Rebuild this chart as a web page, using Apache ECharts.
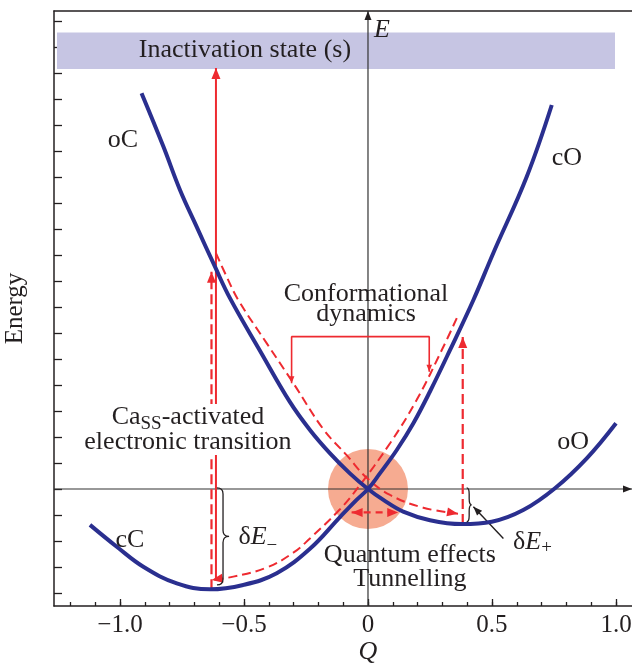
<!DOCTYPE html>
<html><head><meta charset="utf-8">
<script src="https://cdn.jsdelivr.net/npm/echarts@6/dist/echarts.min.js"></script>
<style>html,body{margin:0;padding:0;background:#fff}#c{width:632px;height:668px}</style>
</head><body><div id="c"></div>
<script>
// ---------- data ----------
const xLabelValues = [-1, -0.5, 0, 0.5, 1];
const xTickLabels = ['\u22121.0', '\u22120.5', '0', '0.5', '1.0'];
const xMinorTickValues = [-1.2,-1.1,-1.0,-0.9,-0.8,-0.7,-0.6,-0.5,-0.4,-0.3,-0.2,-0.1,0,0.1,0.2,0.3,0.4,0.5,0.6,0.7,0.8,0.9,1.0];
const yTickValues = [-4,-3,-2,-1,0,1,2,3,4,5,6,7,8,9,10,11,12,13,14,15,16,17,18];
const xRange = [-1.266, 1.0645];
const yRange = [-4.5, 18.385];

// oC -> oO potential curve
const curveOcOo = [[-0.913,15.22],[-0.825,13.17],[-0.758,11.5],[-0.691,10.09],[-0.617,8.55],[-0.556,7.33],[-0.435,5.31],[-0.315,3.35],[-0.234,2.27],[-0.153,1.37],[-0.073,0.6],[0,0],[0.062,-0.42],[0.142,-0.87],[0.25,-1.2],[0.378,-1.35],[0.499,-1.26],[0.626,-0.81],[0.754,0.03],[0.882,1.18],[1.0,2.53]];
// cC -> cO potential curve
const curveCcCo = [[-1.121,-1.38],[-1.013,-2.22],[-0.906,-2.99],[-0.771,-3.63],[-0.637,-3.86],[-0.503,-3.69],[-0.368,-3.24],[-0.234,-2.3],[-0.113,-1.08],[-0.046,-0.42],[0,0],[0.048,0.6],[0.116,1.5],[0.183,2.53],[0.25,3.75],[0.331,5.35],[0.425,7.27],[0.505,9.07],[0.640,12.01],[0.741,14.77]];
// red dashed paths
const dashedOpening = [[-0.613,9.07],[-0.570,8.17],[-0.523,7.27],[-0.408,5.60],[-0.301,4.07],[-0.180,2.30],[-0.086,1.30],[-0.003,0.41],[0.089,-0.23],[0.223,-0.72],[0.363,-0.95]];
const dashedClosing = [[0.358,6.57],[0.304,5.47],[0.196,3.42],[0.089,1.76],[-0.039,0.07],[-0.113,-0.78],[-0.234,-1.90],[-0.301,-2.45],[-0.408,-3.02],[-0.543,-3.37],[-0.630,-3.50]];
const inactivationBand = [[-1.254, 17.56], [0.996, 16.15]];
const transitionSolid = [[-0.613,-3.46],[-0.613,16.19]];
const transitionDashed = [[-0.631,-3.86],[-0.631,8.36]];
const rightDashed = [[0.382,-1.35],[0.382,5.85]];
const tunnelArrow = [[-0.066,-0.9],[0.122,-0.9]];
const conformBracket = [[-0.308,4.07],[-0.308,5.86],[0.247,5.86],[0.247,4.51]];
const deltaPlusPointer = [[0.546,-1.90],[0.425,-0.68]];
const verticalAxisLine = [[0,-4.5],[0,18.385]];
const horizontalAxisLine = [[-1.266,0],[1.0645,0]];
// braces: [xEnds, xTip, yTop, yBottom]
const braces = [[-0.609,-0.560,0.04,-3.69],[0.398,0.418,0.04,-1.26]];

// ---------- styles ----------
const FONT = '"Liberation Serif", "Times New Roman", serif';
const INK = '#231f20';
const BLUE = '#2a2f8f';
const RED = '#ee2a30';

const ctx2d = document.createElement('canvas').getContext('2d');
function fontStr(size, italic){ return (italic ? 'italic ' : '') + size + 'px ' + FONT; }
function measure(t, f){ ctx2d.font = f; return ctx2d.measureText(t).width; }

const textNotes = [
  {at:[-0.496,16.88], parts:[['Inactivation state (s)']]},
  {at:[0.056,17.65], parts:[['E','i']]},
  {at:[-0.988,13.42], parts:[['oC']]},
  {at:[0.802,12.73], parts:[['cO']]},
  {at:[0.827,1.81], parts:[['oO']]},
  {at:[-0.960,-1.96], parts:[['cC']]},
  {at:[-0.008,7.50], parts:[['Conformational']]},
  {at:[-0.008,6.73], parts:[['dynamics']]},
  {at:[-0.726,2.77], parts:[['Ca'],['SS','s',7],['-activated']], mask:true},
  {at:[-0.726,1.81], parts:[['electronic transition']], mask:true},
  {at:[-0.444,-1.85], parts:[['\u03b4'],['E','i'],['\u2212','s',9]]},
  {at:[0.663,-2.04], parts:[['\u03b4'],['E','i'],['+','s',6]]},
  {at:[0.169,-2.54], parts:[['Quantum effects']]},
  {at:[0.169,-3.45], parts:[['Tunnelling']]},
  {at:[0,-6.27], parts:[['Q','i']]}
];

function lineSeries(data, color, width, type, smooth, z){
  return {type:'line', data, showSymbol:false, symbol:'none', smooth, silent:true, clip:false,
    lineStyle:{color, width, type, cap:'butt'}, z};
}
function arrowSeries(list, color, len, half, z){
  return {type:'custom', coordinateSystem:'cartesian2d', silent:true, z, data:list,
    renderItem(params, api){
      const tip = api.coord([api.value(0), api.value(1)]);
      const from = api.coord([api.value(2), api.value(3)]);
      let dx = tip[0]-from[0], dy = tip[1]-from[1];
      const d = Math.hypot(dx, dy) || 1; dx /= d; dy /= d;
      const bx = tip[0]-dx*len, by = tip[1]-dy*len;
      return {type:'polygon', shape:{points:[tip,[bx-dy*half, by+dx*half],[bx+dy*half, by-dx*half]]}, style:{fill:color}};
    }};
}

const last = a => a[a.length-1];
const prev = a => a[a.length-2];

const option = {
  animation:false,
  backgroundColor:'#fff',
  grid:{left:54, right:0, top:11, bottom:62, containLabel:false, outerBoundsMode:'none'},
  xAxis:[
    {type:'value', position:'bottom', min:xRange[0], max:xRange[1],
      axisLine:{show:true, onZero:false, lineStyle:{color:INK, width:1.5}},
      axisTick:{show:true, inside:true, length:7, customValues:xLabelValues, lineStyle:{color:INK, width:1.3}},
      axisLabel:{show:true, customValues:xLabelValues, margin:7, fontFamily:FONT, fontSize:25, color:INK,
        formatter:v => { const i = xLabelValues.findIndex(x => Math.abs(x-v) < 1e-9); return i >= 0 ? xTickLabels[i] : ''; }},
      splitLine:{show:false}},
    {type:'value', position:'bottom', min:xRange[0], max:xRange[1],
      axisLine:{show:false, onZero:false},
      axisTick:{show:true, inside:true, length:4, customValues:xMinorTickValues, lineStyle:{color:INK, width:1.3}},
      axisLabel:{show:false}, splitLine:{show:false}},
    {type:'value', position:'top', min:xRange[0], max:xRange[1],
      axisLine:{show:true, onZero:false, lineStyle:{color:INK, width:1.5}},
      axisTick:{show:false}, axisLabel:{show:false}, splitLine:{show:false}}
  ],
  yAxis:[
    {type:'value', position:'left', min:yRange[0], max:yRange[1],
      axisLine:{show:true, onZero:false, lineStyle:{color:INK, width:1.5}},
      axisTick:{show:true, inside:true, length:8, customValues:yTickValues, lineStyle:{color:INK, width:1.3}},
      axisLabel:{show:false}, splitLine:{show:false},
      name:'Energy', nameLocation:'middle', nameGap:26, nameRotate:90,
      nameTextStyle:{fontFamily:FONT, fontSize:25, color:INK}}
  ],
  series:[
    {type:'scatter', data:[[0,0]], symbolSize:80, silent:true, itemStyle:{color:'#f6ab91', opacity:1}, z:1},
    {type:'custom', coordinateSystem:'cartesian2d', silent:true, z:1,
      data:[[inactivationBand[0][0], inactivationBand[0][1], inactivationBand[1][0], inactivationBand[1][1]]],
      renderItem(params, api){
        const a = api.coord([api.value(0), api.value(1)]);
        const b = api.coord([api.value(2), api.value(3)]);
        return {type:'rect', shape:{x:a[0], y:a[1], width:b[0]-a[0], height:b[1]-a[1]}, style:{fill:'#c6c5e3'}};
      }},
    lineSeries(verticalAxisLine, '#333', 1.2, 'solid', false, 2),
    lineSeries(horizontalAxisLine, '#333', 1.2, 'solid', false, 2),
    lineSeries(transitionSolid, RED, 2, 'solid', false, 3),
    lineSeries(transitionDashed, RED, 2.2, [10,5], false, 3),
    lineSeries(rightDashed, RED, 2.2, [10,5], false, 3),
    lineSeries(tunnelArrow, RED, 2.2, [7,5], false, 3),
    lineSeries(conformBracket, RED, 1.6, 'solid', false, 3),
    lineSeries(dashedOpening, RED, 2, [9,5], 0.4, 3),
    lineSeries(dashedClosing, RED, 2, [9,5], 0.4, 3),
    lineSeries(deltaPlusPointer, INK, 1.4, 'solid', false, 3),
    lineSeries(curveOcOo, BLUE, 4, 'solid', 0.4, 4),
    lineSeries(curveCcCo, BLUE, 4, 'solid', 0.4, 4),
    arrowSeries([
      [transitionSolid[1][0], transitionSolid[1][1], transitionSolid[0][0], transitionSolid[0][1]],
      [transitionDashed[1][0], transitionDashed[1][1], transitionDashed[0][0], transitionDashed[0][1]],
      [rightDashed[1][0], rightDashed[1][1], rightDashed[0][0], rightDashed[0][1]],
      [last(dashedOpening)[0], last(dashedOpening)[1], prev(dashedOpening)[0], prev(dashedOpening)[1]],
      [last(dashedClosing)[0], last(dashedClosing)[1], prev(dashedClosing)[0], prev(dashedClosing)[1]],
      [tunnelArrow[0][0], tunnelArrow[0][1], tunnelArrow[1][0], tunnelArrow[1][1]],
      [tunnelArrow[1][0], tunnelArrow[1][1], tunnelArrow[0][0], tunnelArrow[0][1]]
    ], RED, 11, 4.5, 5),
    arrowSeries([
      [conformBracket[0][0], conformBracket[0][1], conformBracket[1][0], conformBracket[1][1]],
      [last(conformBracket)[0], last(conformBracket)[1], prev(conformBracket)[0], prev(conformBracket)[1]]
    ], RED, 7, 2.8, 5),
    arrowSeries([
      [last(verticalAxisLine)[0], last(verticalAxisLine)[1], verticalAxisLine[0][0], verticalAxisLine[0][1]],
      [last(horizontalAxisLine)[0], last(horizontalAxisLine)[1], horizontalAxisLine[0][0], horizontalAxisLine[0][1]],
      [last(deltaPlusPointer)[0], last(deltaPlusPointer)[1], deltaPlusPointer[0][0], deltaPlusPointer[0][1]]
    ], INK, 9, 3.5, 5),
    {type:'custom', coordinateSystem:'cartesian2d', silent:true, z:5, data:braces,
      renderItem(params, api){
        const top = api.coord([api.value(0), api.value(2)]);
        const bot = api.coord([api.value(0), api.value(3)]);
        const tipX = api.coord([api.value(1), 0])[0];
        const x0 = top[0], s = (x0+tipX)/2, t = top[1], b = bot[1], m = (t+b)/2;
        const r = Math.min(6, (b-t)/4);
        const p = `M${x0},${t} Q${s},${t} ${s},${t+r} L${s},${m-r} Q${s},${m} ${tipX},${m} Q${s},${m} ${s},${m+r} L${s},${b-r} Q${s},${b} ${x0},${b}`;
        return {type:'path', shape:{pathData:p}, style:{fill:null, stroke:INK, lineWidth:1.3}};
      }},
    {type:'custom', coordinateSystem:'cartesian2d', silent:true, z:6,
      data:textNotes.map((n,i) => [n.at[0], n.at[1], i]),
      renderItem(params, api){
        const note = textNotes[api.value(2)];
        const c = api.coord([api.value(0), api.value(1)]);
        const base = note.size || 26;
        const parts = note.parts.map(p => {
          const sub = p[1] === 's';
          const size = sub ? Math.round(base*0.74) : base;
          const f = fontStr(size, p[1] === 'i');
          return {t:p[0], f, w:measure(p[0], f), dy: sub ? (p[2] || 7) : 0};
        });
        const total = parts.reduce((s,p) => s+p.w, 0);
        let x = c[0]-total/2;
        const children = [];
        if (note.mask) children.push({type:'rect', shape:{x:x-3, y:c[1]-base*0.5, width:total+6, height:base*1.0}, style:{fill:'#fff'}});
        parts.forEach(p => {
          children.push({type:'text', x, y:c[1]+p.dy,
            style:{text:p.t, font:p.f, fill:INK, align:'left', verticalAlign:'middle', textAlign:'left', textVerticalAlign:'middle'}});
          x += p.w;
        });
        return {type:'group', children};
      }}
  ]
};
const chart = echarts.init(document.getElementById('c'), null, {renderer:'canvas'});
chart.setOption(option);
</script></body></html>
